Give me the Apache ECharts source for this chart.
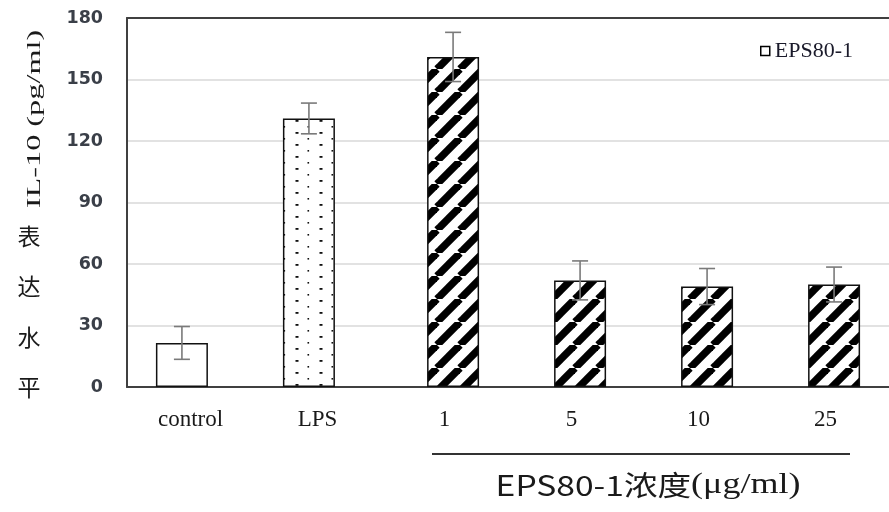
<!DOCTYPE html>
<html>
<head>
<meta charset="utf-8">
<script src="https://cdn.jsdelivr.net/npm/echarts@6/dist/echarts.min.js"></script>
<style>
  html, body { margin: 0; padding: 0; background: #fff; }
  #chart { width: 889px; height: 512px; }
</style>
</head>
<body>
<div id="chart"></div>
<script>
// IL-10 expression per treatment group
const categories = ['control', 'LPS', '1', '5', '10', '25'];
const referenceValues = [21.5, 131, null, null, null, null];   // control and LPS groups
const epsValues = [null, null, 161, 52, 49, 50];                 // EPS80-1 dose groups
const errorValues = [8, 7.5, 12, 9.5, 8.8, 8.5];
const yTicks = { min: 0, max: 180, interval: 30 };
const seriesName = 'EPS80-1';

// bar geometry: two overlapping series per slot, shifted apart slightly
const BAR_W = 52;
const BAR_GAP = -0.67;
const BAR_SHIFT = (BAR_W + BAR_W * BAR_GAP) / 2;

// diagonal stripe fill for the EPS80-1 bars
function stripeTile() {
  const s = 23;
  const c = document.createElement('canvas');
  c.width = s; c.height = s;
  const g = c.getContext('2d');
  g.fillStyle = '#fff';
  g.fillRect(0, 0, s, s);
  g.strokeStyle = '#000';
  g.lineWidth = 7.5;
  for (let k = -1; k <= 1; k++) {
    g.beginPath();
    g.moveTo(k * s, s);
    g.lineTo(k * s + s, 0);
    g.stroke();
  }
  return c;
}

// sparse dot fill for the LPS bar
function dotTile() {
  const c = document.createElement('canvas');
  c.width = 24; c.height = 12;
  const g = c.getContext('2d');
  g.fillStyle = '#fff';
  g.fillRect(0, 0, 24, 12);
  g.fillStyle = '#111';
  g.fillRect(7.5, 0, 3, 1.8);
  g.fillRect(19.5, 6, 1.6, 1.6);
  return c;
}

const stripeFill = { image: stripeTile(), repeat: 'repeat' };
const dotFill = { image: dotTile(), repeat: 'repeat' };

const refData = referenceValues.map((v, i) => {
  if (v == null) return null;
  return {
    value: v,
    itemStyle: { color: i === 1 ? dotFill : '#fff', borderColor: '#111', borderWidth: 1.5 }
  };
});

const errData = [];
categories.forEach((c, i) => {
  if (referenceValues[i] != null) errData.push([i, referenceValues[i], errorValues[i], -1]);
  if (epsValues[i] != null) errData.push([i, epsValues[i], errorValues[i], 1]);
});

const frameLine = { show: true, lineStyle: { color: '#404040', width: 2 } };

const chart = echarts.init(document.getElementById('chart'), null, { renderer: 'canvas' });

chart.setOption({
  animation: false,
  backgroundColor: '#fff',
  grid: { left: 127, top: 18, right: -6, bottom: 125 },
  legend: {
    left: 755, top: 35,
    itemWidth: 9, itemHeight: 9,
    data: [{
      name: seriesName, icon: 'rect',
      itemStyle: { color: '#fff', borderColor: '#000', borderWidth: 1.5 }
    }],
    textStyle: { fontFamily: 'Liberation Serif', fontSize: 22, color: '#1a1a2a' }
  },
  xAxis: [
    {
      type: 'category',
      data: categories,
      axisLine: frameLine,
      axisTick: { show: false },
      axisLabel: {
        margin: 21,
        fontFamily: 'Liberation Serif', fontSize: 23, color: '#1a1a1a'
      },
      splitLine: { show: false }
    },
    {
      // top edge of the plot frame
      type: 'category',
      position: 'top',
      data: categories,
      axisLine: frameLine,
      axisTick: { show: false },
      axisLabel: { show: false },
      splitLine: { show: false }
    }
  ],
  yAxis: {
    type: 'value',
    min: yTicks.min, max: yTicks.max, interval: yTicks.interval,
    axisLine: frameLine,
    axisTick: { show: false },
    axisLabel: {
      margin: 24,
      fontFamily: 'DejaVu Sans', fontSize: 17.5, fontWeight: 'bold', color: '#3a3f48'
    },
    splitLine: {
      show: true, showMinLine: false, showMaxLine: false,
      lineStyle: { color: '#d9d9d9', width: 1.5 }
    }
  },
  series: [
    {
      name: 'reference',
      type: 'bar',
      data: refData,
      barWidth: BAR_W,
      barGap: (BAR_GAP * 100) + '%',
      z: 2
    },
    {
      name: seriesName,
      type: 'bar',
      data: epsValues,
      barWidth: BAR_W,
      barGap: (BAR_GAP * 100) + '%',
      itemStyle: { color: stripeFill, borderColor: '#111', borderWidth: 1.5 },
      z: 2
    },
    {
      name: 'error',
      type: 'custom',
      data: errData,
      encode: { x: 0, y: 1 },
      z: 5,
      renderItem: function (params, api) {
        const idx = api.value(0), v = api.value(1), e = api.value(2), side = api.value(3);
        const hi = api.coord([idx, v + e]);
        const lo = api.coord([idx, v - e]);
        const x = hi[0] + side * BAR_SHIFT;
        const cap = 8;
        const style = { stroke: '#7a7a7a', lineWidth: 1.6 };
        return {
          type: 'group',
          children: [
            { type: 'line', shape: { x1: x, y1: hi[1], x2: x, y2: lo[1] }, style },
            { type: 'line', shape: { x1: x - cap, y1: hi[1], x2: x + cap, y2: hi[1] }, style },
            { type: 'line', shape: { x1: x - cap, y1: lo[1], x2: x + cap, y2: lo[1] }, style }
          ]
        };
      }
    }
  ],
  graphic: [
    {
      type: 'text',
      x: 35, y: 119,
      rotation: Math.PI / 2,
      scaleX: 1.7,
      style: {
        text: 'IL-10 (pg/ml)',
        fontFamily: 'Liberation Serif', fontSize: 19, fill: '#1a1a1a',
        align: 'center', verticalAlign: 'middle'
      }
    },
    {
      type: 'text',
      x: 29, y: 312,
      style: {
        text: '表\n达\n水\n平',
        fontFamily: 'Noto Sans CJK SC', fontSize: 23, lineHeight: 50.5, fill: '#1a1a1a',
        align: 'center', verticalAlign: 'middle'
      }
    },
    {
      type: 'line',
      shape: { x1: 432, y1: 454, x2: 850, y2: 454 },
      style: { stroke: '#333', lineWidth: 2 }
    },
    {
      type: 'text',
      x: 648, y: 485,
      scaleX: 1.2,
      style: {
        text: '{a|EPS80-1浓度}{b|(μg/ml)}',
        align: 'center', verticalAlign: 'middle',
        rich: {
          a: { fontFamily: 'Noto Sans CJK SC', fontSize: 28, fill: '#1a1a1a' },
          b: { fontFamily: 'Liberation Serif', fontSize: 30, fill: '#1a1a1a' }
        }
      }
    }
  ]
});
</script>
</body>
</html>
